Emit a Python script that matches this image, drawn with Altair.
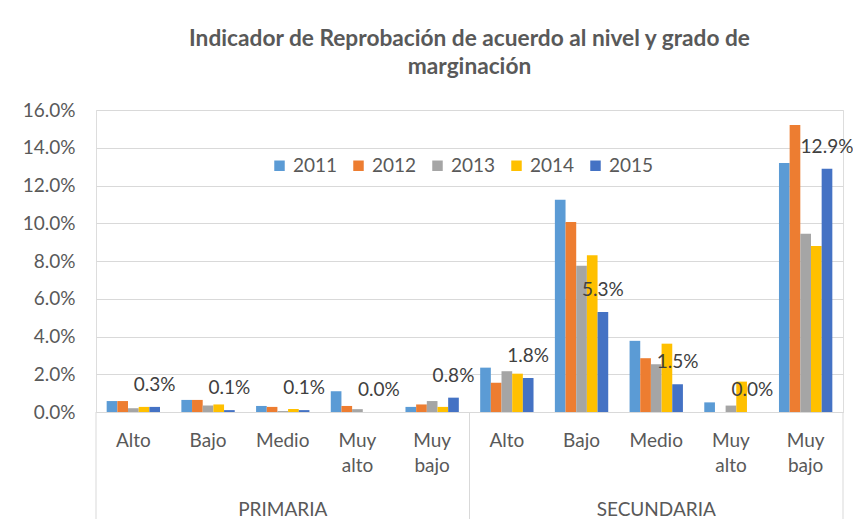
import altair as alt
import pandas as pd

# ---- data ----
niveles = ["PRIMARIA"] * 5 + ["SECUNDARIA"] * 5
grados = ["Alto", "Bajo", "Medio", "Muy alto", "Muy bajo"] * 2
years = ["2011", "2012", "2013", "2014", "2015"]

v2011 = [0.58, 0.64, 0.32, 1.10, 0.27, 2.35, 11.25, 3.77, 0.51, 13.19]
v2012 = [0.58, 0.64, 0.27, 0.32, 0.40, 1.55, 10.06, 2.85, 0.00, 15.20]
v2013 = [0.20, 0.34, 0.05, 0.15, 0.58, 2.16, 7.75, 2.53, 0.34, 9.44]
v2014 = [0.27, 0.40, 0.16, 0.00, 0.27, 2.03, 8.30, 3.62, 1.61, 8.79]
v2015 = [0.27, 0.10, 0.10, 0.00, 0.76, 1.80, 5.30, 1.47, 0.00, 12.89]

y_ticks = [0, 0.02, 0.04, 0.06, 0.08, 0.10, 0.12, 0.14, 0.16]
colors = ["#5B9BD5", "#ED7D31", "#A5A5A5", "#FFC000", "#4472C4"]
title_lines = ["Indicador de Reprobación de acuerdo al nivel y grado de", "marginación"]

cats = [f"{n}|{g}" for n, g in zip(niveles, grados)]
rows = []
for yr, vals in zip(years, [v2011, v2012, v2013, v2014, v2015]):
    for c, v in zip(cats, vals):
        rows.append({"cat": c, "year": yr, "value": v / 100})
df = pd.DataFrame(rows)

groups_df = pd.DataFrame({"cat": ["PRIMARIA|Medio", "SECUNDARIA|Medio"],
                          "label": ["PRIMARIA", "SECUNDARIA"]})
left_edges = pd.DataFrame({"cat": ["PRIMARIA|Alto", "SECUNDARIA|Alto"]})
right_edges = pd.DataFrame({"cat": ["SECUNDARIA|Muy bajo"]})

FONT = "Lato"
TXT = "#595959"
GRID = "#D9D9D9"
W, H = 747, 302

xscale = alt.Scale(domain=cats, paddingInner=0, paddingOuter=0)
yscale = alt.Scale(domain=[0, 0.16])
xaxis = alt.Axis(
    title=None,
    labelExpr="split(split(datum.value, '|')[1], ' ')",
    labelAngle=0,
    ticks=False,
    domainColor=GRID,
    labelPadding=19,
    labelFontSize=19,
    labelColor=TXT,
    labelFont=FONT,
    labelLineHeight=25,
    labelBaseline="top",
    labelOverlap=False,
)
yaxis = alt.Axis(
    title=None, format=".1%", values=y_ticks, domain=False, ticks=False,
    labelPadding=21, gridColor=GRID, labelFontSize=19, labelColor=TXT,
    labelFont=FONT, labelOverlap=False,
)

bars = alt.Chart(df).mark_bar().encode(
    x=alt.X("cat:N", scale=xscale, sort=cats, axis=xaxis),
    xOffset=alt.XOffset("year:N", scale=alt.Scale(paddingInner=0, paddingOuter=1.0)),
    y=alt.Y("value:Q", scale=yscale, axis=yaxis),
    color=alt.Color(
        "year:N",
        scale=alt.Scale(domain=years, range=colors),
        legend=alt.Legend(
            title=None, orient="none", legendX=174, legendY=46,
            direction="horizontal", symbolType="square", symbolSize=110,
            symbolStrokeWidth=0, labelFontSize=19, labelColor=TXT, labelFont=FONT,
            labelOffset=4, columnPadding=11, padding=0,
        ),
    ),
)

labels = alt.Chart(df).transform_filter(alt.datum.year == "2015").mark_text(
    dy=-22, fontSize=19, color="#404040", font=FONT
).encode(
    x=alt.X("cat:N", scale=xscale, sort=cats, axis=xaxis),
    xOffset=alt.XOffset("year:N"),
    y=alt.Y("value:Q", scale=yscale, axis=yaxis),
    text=alt.Text("value:Q", format=".1%"),
)

rule_l = alt.Chart(left_edges).mark_rule(color=GRID, strokeWidth=1).encode(
    x=alt.X("cat:N", scale=xscale, sort=cats, bandPosition=0, axis=xaxis),
    y=alt.value(H), y2=alt.value(H + 108),
)
rule_r = alt.Chart(right_edges).mark_rule(color=GRID, strokeWidth=1).encode(
    x=alt.X("cat:N", scale=xscale, sort=cats, bandPosition=1, axis=xaxis),
    y=alt.value(H), y2=alt.value(H + 108),
)

group_text = alt.Chart(groups_df).mark_text(
    fontSize=19, color=TXT, font=FONT, baseline="alphabetic"
).encode(
    x=alt.X("cat:N", scale=xscale, sort=cats, axis=xaxis),
    y=alt.value(H + 104),
    text="label:N",
)

chart = alt.layer(bars, labels, rule_l, rule_r, group_text).properties(
    width=W,
    height=H,
    autosize=alt.AutoSizeParams(type="none"),
    padding={"left": 88, "top": 102, "right": 10, "bottom": 107},
    title=alt.TitleParams(
        text=title_lines, fontSize=22.7, fontWeight="bold", color=TXT, font=FONT,
        anchor="middle", frame="group", offset=22, lineHeight=28,
    ),
).configure_view(stroke=None).configure(background="white")

chart.save("out.html", embed_options={"renderer": "svg", "actions": False})
